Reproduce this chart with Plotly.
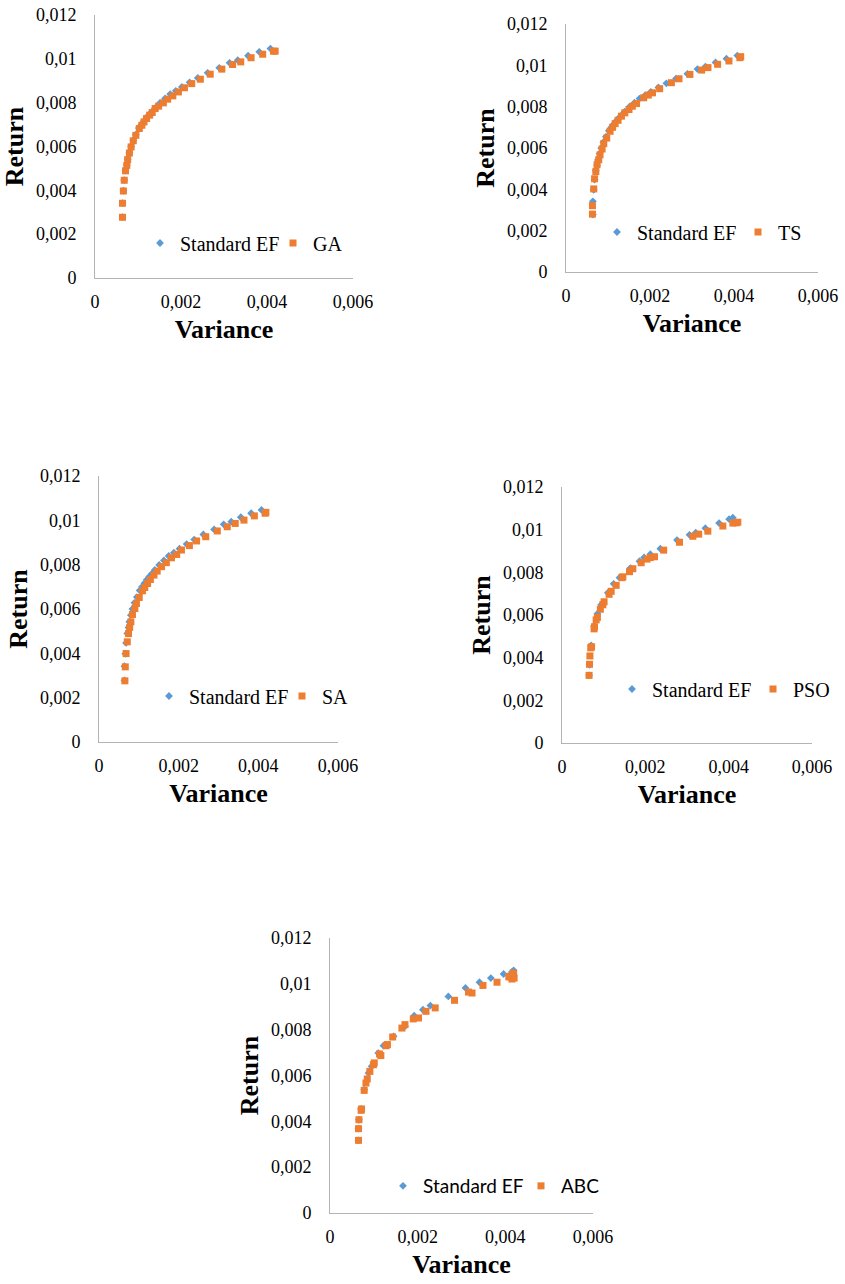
import plotly.graph_objects as go

W, H = 845, 1284

# Standard efficient frontier (variance, return) used in the GA, TS and SA panels
ef_var = [0.00064, 0.00064, 0.00066, 0.00068, 0.00071, 0.00074, 0.00076, 0.00080, 0.00084,
          0.00089, 0.00095, 0.00102, 0.00108, 0.00114, 0.00120, 0.00126, 0.00133, 0.00140,
          0.00151, 0.00163, 0.00175, 0.00188, 0.00202, 0.00220, 0.00239, 0.00262, 0.00289,
          0.00313, 0.00332, 0.00356, 0.00382, 0.00408]
ef_ret = [0.00278, 0.00342, 0.00398, 0.00447, 0.00490, 0.00516, 0.00542, 0.00572, 0.00600,
          0.00628, 0.00654, 0.00684, 0.00700, 0.00716, 0.00732, 0.00746, 0.00760, 0.00776,
          0.00799, 0.00819, 0.00839, 0.00854, 0.00872, 0.00893, 0.00913, 0.00936, 0.00959,
          0.00982, 0.00994, 0.01014, 0.01032, 0.01047]

# Standard EF points shown in the PSO panel
ef_pso_var = [0.00065, 0.00066, 0.00070, 0.00077, 0.00085, 0.00094, 0.00110, 0.00124, 0.00138,
              0.00164, 0.00186, 0.00197, 0.00212, 0.00236, 0.00276, 0.00306, 0.00321, 0.00344,
              0.00377, 0.00401, 0.00410]
ef_pso_ret = [0.00317, 0.00366, 0.00458, 0.00549, 0.00606, 0.00648, 0.00704, 0.00746, 0.00775,
              0.00820, 0.00852, 0.00870, 0.00885, 0.00911, 0.00951, 0.00976, 0.00986, 0.01007,
              0.01031, 0.01049, 0.01056]

# Standard EF points shown in the ABC panel
ef_abc_var = [0.00065, 0.00065, 0.00066, 0.00071, 0.00078, 0.00088, 0.00095, 0.00110, 0.00122,
              0.00145, 0.00171, 0.00192, 0.00212, 0.00229, 0.00270, 0.00309, 0.00341, 0.00367,
              0.00396, 0.00415, 0.00419]
ef_abc_ret = [0.00317, 0.00368, 0.00407, 0.00454, 0.00538, 0.00611, 0.00640, 0.00698, 0.00730,
              0.00771, 0.00815, 0.00861, 0.00887, 0.00905, 0.00945, 0.00982, 0.01007, 0.01025,
              0.01043, 0.01052, 0.01059]

ga_var = [0.00064, 0.00064, 0.00066, 0.00068, 0.00071, 0.00074, 0.00076, 0.00080, 0.00084,
          0.00089, 0.00095, 0.00103, 0.00109, 0.00114, 0.00120, 0.00127, 0.00133, 0.00140,
          0.00148, 0.00159, 0.00169, 0.00181, 0.00194, 0.00208, 0.00225, 0.00245, 0.00268,
          0.00295, 0.00320, 0.00339, 0.00363, 0.00390, 0.00415, 0.00419]
ga_ret = [0.00277, 0.00341, 0.00397, 0.00446, 0.00489, 0.00514, 0.00540, 0.00570, 0.00598,
          0.00626, 0.00651, 0.00682, 0.00697, 0.00712, 0.00728, 0.00743, 0.00755, 0.00773,
          0.00784, 0.00799, 0.00816, 0.00831, 0.00849, 0.00868, 0.00887, 0.00907, 0.00930,
          0.00953, 0.00974, 0.00986, 0.01005, 0.01021, 0.01035, 0.01035]

ts_var = [0.00063, 0.00063, 0.00066, 0.00068, 0.00071, 0.00074, 0.00078, 0.00081, 0.00086,
          0.00090, 0.00097, 0.00105, 0.00111, 0.00117, 0.00124, 0.00132, 0.00140, 0.00150,
          0.00158, 0.00168, 0.00185, 0.00196, 0.00206, 0.00223, 0.00251, 0.00269, 0.00295,
          0.00323, 0.00338, 0.00361, 0.00388, 0.00414, 0.00416]
ts_ret = [0.00280, 0.00321, 0.00402, 0.00451, 0.00486, 0.00519, 0.00543, 0.00567, 0.00595,
          0.00621, 0.00648, 0.00681, 0.00700, 0.00718, 0.00734, 0.00754, 0.00770, 0.00786,
          0.00802, 0.00815, 0.00843, 0.00856, 0.00867, 0.00887, 0.00916, 0.00935, 0.00956,
          0.00977, 0.00989, 0.01005, 0.01021, 0.01037, 0.01042]

sa_var = [0.00065, 0.00066, 0.00068, 0.00071, 0.00074, 0.00077, 0.00080, 0.00084, 0.00090,
          0.00094, 0.00101, 0.00109, 0.00115, 0.00122, 0.00129, 0.00138, 0.00146, 0.00157,
          0.00169, 0.00182, 0.00195, 0.00207, 0.00227, 0.00245, 0.00268, 0.00297, 0.00322,
          0.00342, 0.00364, 0.00390, 0.00417, 0.00419]
sa_ret = [0.00276, 0.00339, 0.00399, 0.00452, 0.00489, 0.00517, 0.00542, 0.00575, 0.00602,
          0.00625, 0.00652, 0.00682, 0.00697, 0.00715, 0.00733, 0.00753, 0.00771, 0.00791,
          0.00809, 0.00831, 0.00846, 0.00866, 0.00886, 0.00907, 0.00926, 0.00952, 0.00971,
          0.00986, 0.01001, 0.01020, 0.01032, 0.01036]

pso_var = [0.00065, 0.00066, 0.00067, 0.00069, 0.00071, 0.00077, 0.00078, 0.00082, 0.00085,
           0.00092, 0.00098, 0.00101, 0.00113, 0.00118, 0.00130, 0.00144, 0.00146, 0.00162,
           0.00170, 0.00190, 0.00204, 0.00212, 0.00222, 0.00244, 0.00282, 0.00314, 0.00328,
           0.00350, 0.00386, 0.00410, 0.00418, 0.00422]
pso_ret = [0.00317, 0.00369, 0.00408, 0.00446, 0.00451, 0.00535, 0.00545, 0.00577, 0.00589,
           0.00627, 0.00648, 0.00662, 0.00697, 0.00711, 0.00739, 0.00775, 0.00779, 0.00803,
           0.00817, 0.00845, 0.00862, 0.00869, 0.00873, 0.00904, 0.00941, 0.00969, 0.00979,
           0.00993, 0.01017, 0.01031, 0.01032, 0.01035]

abc_var = [0.00065, 0.00065, 0.00066, 0.00071, 0.00072, 0.00078, 0.00082, 0.00085, 0.00091,
           0.00099, 0.00101, 0.00113, 0.00116, 0.00128, 0.00131, 0.00143, 0.00164, 0.00171,
           0.00190, 0.00202, 0.00219, 0.00240, 0.00284, 0.00316, 0.00324, 0.00349, 0.00381,
           0.00408, 0.00415, 0.00419, 0.00411, 0.00420, 0.00418]
abc_ret = [0.00317, 0.00368, 0.00407, 0.00448, 0.00454, 0.00535, 0.00567, 0.00585, 0.00618,
           0.00647, 0.00655, 0.00694, 0.00687, 0.00730, 0.00735, 0.00768, 0.00807, 0.00822,
           0.00847, 0.00851, 0.00880, 0.00895, 0.00928, 0.00964, 0.00960, 0.00993, 0.01007,
           0.01030, 0.01021, 0.01040, 0.01033, 0.01025, 0.01047]

x_ticks = [0, 0.002, 0.004, 0.006]
x_ticktext = ["0", "0,002", "0,004", "0,006"]
y_ticks = [0, 0.002, 0.004, 0.006, 0.008, 0.01, 0.012]
y_ticktext = ["0", "0,002", "0,004", "0,006", "0,008", "0,01", "0,012"]

series_name = "Standard EF"
algo_names = ["GA", "TS", "SA", "PSO", "ABC"]
ef_data = [(ef_var, ef_ret), (ef_var, ef_ret), (ef_var, ef_ret),
           (ef_pso_var, ef_pso_ret), (ef_abc_var, ef_abc_ret)]
algo_data = [(ga_var, ga_ret), (ts_var, ts_ret), (sa_var, sa_ret), (pso_var, pso_ret), (abc_var, abc_ret)]

# panel pixel boxes: (left, right, top, bottom), legend left/center-y, entry width, legend font size
panels = [
    (95, 353, 15, 278, 140, 243, 88, 20),
    (566, 818, 24, 272, 597, 232, 96, 20),
    (99, 338, 476, 742, 149, 696, 88, 20),
    (562, 812, 487, 743, 612, 689, 96, 20),
    (330, 593, 938, 1213, 383, 1186, 93, 19),
]

BLUE = "#5B9BD5"
ORANGE = "#ED7D31"
AXIS = "#B3B3B3"
SERIF = "Liberation Serif"
SANS = "Lato"

fig = go.Figure()
layout = dict(
    template="none",
    width=W, height=H, margin=dict(l=0, r=0, t=0, b=0, pad=0, autoexpand=False),
    paper_bgcolor="white", plot_bgcolor="white", showlegend=True,
    font=dict(family=SERIF, color="black"),
)

for i, (name, (ev, er), (av, ar), p) in enumerate(zip(algo_names, ef_data, algo_data, panels)):
    l, r, t, b, lx, ly, ew, lfs = p
    sfx = "" if i == 0 else str(i + 1)
    leg = "legend" if i == 0 else f"legend{i + 1}"
    legfont = SANS if name == "ABC" else SERIF
    fig.add_trace(go.Scatter(
        x=ev, y=er, mode="markers", name=series_name,
        marker=dict(symbol="diamond", size=6, color=BLUE, line=dict(width=0)),
        xaxis="x" + sfx, yaxis="y" + sfx, legend=leg,
    ))
    fig.add_trace(go.Scatter(
        x=av, y=ar, mode="markers", name=name,
        marker=dict(symbol="square", size=7, color=ORANGE, line=dict(width=0)),
        xaxis="x" + sfx, yaxis="y" + sfx, legend=leg,
    ))
    layout["xaxis" + sfx] = dict(
        domain=[l / W, r / W], range=[0, 0.006], anchor="y" + sfx, automargin=False,
        tickvals=x_ticks, ticktext=x_ticktext, showgrid=False, zeroline=False,
        showline=True, linecolor=AXIS, linewidth=1, ticks="",
        tickfont=dict(family=SERIF, size=18, color="black"), ticklabelstandoff=7,
        title=dict(text="<b>Variance</b>", font=dict(family=SERIF, size=26, color="black"), standoff=9),
    )
    layout["yaxis" + sfx] = dict(
        domain=[1 - b / H, 1 - t / H], range=[0, 0.012], anchor="x" + sfx, automargin=False,
        tickvals=y_ticks, ticktext=y_ticktext, showgrid=False, zeroline=False,
        showline=True, linecolor=AXIS, linewidth=1, ticks="",
        tickfont=dict(family=SERIF, size=18, color="black"), ticklabelstandoff=14,
        title=dict(text="<b>Return</b>", font=dict(family=SERIF, size=26, color="black"), standoff=4),
    )
    layout[leg] = dict(
        x=lx / W, y=1 - ly / H, xanchor="left", yanchor="middle",
        orientation="h", bgcolor="rgba(0,0,0,0)", borderwidth=0,
        entrywidth=ew, entrywidthmode="pixels",
        font=dict(family=legfont, size=lfs, color="black"),
        itemclick=False, itemdoubleclick=False,
    )

fig.update_layout(**layout)
fig.write_html("out.html")
